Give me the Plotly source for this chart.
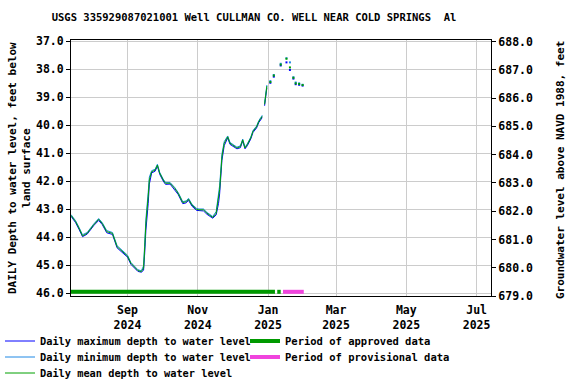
import plotly.graph_objects as go

# ---- data ----
main_dates = ["2024-07-14", "2024-07-18", "2024-07-21", "2024-07-24", "2024-07-28", "2024-07-31",
              "2024-08-03", "2024-08-07", "2024-08-10", "2024-08-14", "2024-08-19", "2024-08-23",
              "2024-08-28", "2024-09-01", "2024-09-04", "2024-09-07", "2024-09-10", "2024-09-13",
              "2024-09-15", "2024-09-16", "2024-09-17", "2024-09-19", "2024-09-20", "2024-09-22",
              "2024-09-25", "2024-09-27", "2024-09-29", "2024-10-02", "2024-10-04", "2024-10-08",
              "2024-10-12", "2024-10-15", "2024-10-19", "2024-10-22", "2024-10-24", "2024-10-27",
              "2024-10-31", "2024-11-02", "2024-11-06", "2024-11-09", "2024-11-14", "2024-11-17",
              "2024-11-19", "2024-11-20", "2024-11-21", "2024-11-22", "2024-11-24", "2024-11-27",
              "2024-11-29", "2024-12-02", "2024-12-05", "2024-12-08", "2024-12-10", "2024-12-12",
              "2024-12-14", "2024-12-17", "2024-12-19", "2024-12-22", "2024-12-24", "2024-12-27",
              "2024-12-28", "2024-12-29", "2024-12-30", "2024-12-31"]
mean_main = [43.22, 43.44, 43.68, 43.95, 43.86, 43.68, 43.54, 43.36, 43.50, 43.80, 43.86, 44.34,
             44.51, 44.67, 44.93, 45.07, 45.19, 45.23, 45.10, 44.34, 43.50, 42.55, 41.95, 41.66,
             41.60, 41.42, 41.71, 41.95, 42.07, 42.07, 42.25, 42.43, 42.76, 42.73, 42.64, 42.85,
             43.00, 43.02, 43.02, 43.14, 43.29, 43.14, 42.67, 42.30, 41.71, 41.12, 40.64, 40.41,
             40.64, 40.73, 40.81, 40.76, 40.52, 40.81, 40.69, 40.45, 40.21, 40.06, 39.86, 39.68,
             None, 39.25, 38.90, 38.60]
max_main = [43.25, 43.48, 43.72, 43.98, 43.89, 43.72, 43.57, 43.40, 43.54, 43.84, 43.90, 44.38,
            44.55, 44.71, 44.97, 45.11, 45.22, 45.25, 45.18, 44.55, 43.75, 42.80, 42.10, 41.70,
            41.64, 41.46, 41.75, 41.99, 42.11, 42.10, 42.29, 42.47, 42.80, 42.77, 42.68, 42.89,
            43.04, 43.05, 43.06, 43.18, 43.32, 43.20, 42.80, 42.45, 41.85, 41.25, 40.72, 40.45,
            40.68, 40.77, 40.84, 40.80, 40.56, 40.84, 40.73, 40.49, 40.25, 40.10, 39.90, 39.72,
            None, 39.30, 39.00, 38.66]
min_main = [43.19, 43.41, 43.65, 43.91, 43.83, 43.65, 43.51, 43.33, 43.47, 43.76, 43.83, 44.30,
            44.48, 44.64, 44.90, 45.04, 45.16, 45.20, 45.02, 44.20, 43.35, 42.40, 41.85, 41.62,
            41.57, 41.39, 41.68, 41.92, 42.04, 42.04, 42.22, 42.40, 42.73, 42.70, 42.61, 42.82,
            42.97, 42.99, 42.99, 43.11, 43.26, 43.08, 42.55, 42.15, 41.60, 41.02, 40.58, 40.38,
            40.61, 40.70, 40.78, 40.73, 40.49, 40.78, 40.66, 40.42, 40.18, 40.03, 39.83, 39.64,
            None, 39.20, 38.80, 38.56]

sparse_dates = ["2025-01-03", "2025-01-06", "2025-01-12", "2025-01-17", "2025-01-20",
                "2025-01-23", "2025-01-25", "2025-01-28", "2025-01-31"]
mean_sparse = [38.45, 38.22, 37.83, 37.62, 37.93, 38.30, 38.50, 38.52, 38.56]
max_sparse = [38.48, 38.26, 37.86, 37.75, 38.02, 38.33, 38.53, 38.55, 38.58]
min_sparse = [38.42, 38.20, 37.80, 37.60, 37.75, 38.28, 38.47, 38.50, 38.55]

approved_dates = ["2024-07-14", "2025-01-07", None, "2025-01-09", "2025-01-12"]
approved_level = [45.95, 45.95, None, 45.95, 45.95]
provisional_dates = ["2025-01-14", "2025-02-01"]
provisional_level = [45.95, 45.95]

tick_vals = ["2024-09-01", "2024-11-01", "2025-01-01", "2025-03-01", "2025-05-01", "2025-07-01"]
tick_text = ["Sep<br>2024", "Nov<br>2024", "Jan<br>2025", "Mar<br>2025", "May<br>2025", "Jul<br>2025"]
left_ticks = [37.0, 38.0, 39.0, 40.0, 41.0, 42.0, 43.0, 44.0, 45.0, 46.0]
right_ticks = [679.0, 680.0, 681.0, 682.0, 683.0, 684.0, 685.0, 686.0, 687.0, 688.0]

FONT = "DejaVu Sans Mono"
C_MAX = "#0000ff"
C_MIN = "#1e88e5"
C_MEAN = "#00a000"
C_APPR = "#009900"
C_PROV = "#f044dd"

fig = go.Figure()
fig.add_trace(go.Scatter(x=main_dates, y=max_main, mode="lines", line=dict(color=C_MAX, width=1),
                         name="Daily maximum depth to water level", legend="legend"))
fig.add_trace(go.Scatter(x=main_dates, y=min_main, mode="lines", line=dict(color=C_MIN, width=1),
                         name="Daily minimum depth to water level", legend="legend3"))
fig.add_trace(go.Scatter(x=main_dates, y=mean_main, mode="lines", line=dict(color=C_MEAN, width=1),
                         name="Daily mean depth to water level", legend="legend5"))
for ys, c in [(max_sparse, C_MAX), (min_sparse, C_MIN), (mean_sparse, C_MEAN)]:
    fig.add_trace(go.Scatter(x=sparse_dates, y=ys, mode="markers",
                             marker=dict(color=c, size=2, symbol="square", line=dict(width=0)),
                             showlegend=False, hoverinfo="skip"))
fig.add_trace(go.Scatter(x=approved_dates, y=approved_level, mode="lines", connectgaps=False,
                         line=dict(color=C_APPR, width=4),
                         name="Period of approved data", legend="legend2"))
fig.add_trace(go.Scatter(x=provisional_dates, y=provisional_level, mode="lines",
                         line=dict(color=C_PROV, width=4),
                         name="Period of provisional data", legend="legend4"))
# transparent trace that activates the right-hand elevation axis
fig.add_trace(go.Scatter(x=[main_dates[0]], y=[683.0], yaxis="y2", mode="markers",
                         marker=dict(opacity=0), showlegend=False, hoverinfo="skip"))

axfont = dict(family=FONT, size=11.5, color="black", weight="bold")


def leg(xpx, ypx, size):
    return dict(x=xpx / 576, xref="container", y=1 - ypx / 384, yref="container",
                xanchor="left", yanchor="middle", orientation="v",
                font=dict(family=FONT, size=size, color="black", weight="bold"),
                bgcolor="rgba(0,0,0,0)", borderwidth=0)


fig.update_layout(
    width=576, height=384,
    margin=dict(l=71, r=85, t=40, b=88, autoexpand=False),
    paper_bgcolor="white", plot_bgcolor="white",
    font=dict(family=FONT, color="black", weight="bold"),
    title=dict(text="USGS 335929087021001 Well CULLMAN CO. WELL NEAR COLD SPRINGS  Al",
               x=254 / 576, xanchor="center", xref="container",
               y=1 - 17 / 384, yanchor="middle", yref="container",
               font=dict(family=FONT, size=10.5, color="black", weight="bold")),
    xaxis=dict(type="date", range=["2024-07-14", "2025-07-13 12:00"],
               tickvals=tick_vals, ticktext=tick_text, tickfont=axfont,
               ticklabelstandoff=3,
               showgrid=True, gridcolor="#cccccc", gridwidth=1,
               showline=True, linecolor="black", linewidth=1, mirror=True,
               ticks="", zeroline=False),
    yaxis=dict(range=[46.1, 36.95], tickvals=left_ticks,
               ticktext=[f"{v:.1f}" for v in left_ticks], tickfont=axfont,
               showgrid=True, gridcolor="#cccccc", gridwidth=1,
               showline=True, linecolor="black", linewidth=1, mirror=True,
               ticks="outside", ticklen=4, tickcolor="black", zeroline=False),
    yaxis2=dict(range=[679.0, 688.06], overlaying="y", side="right", tickvals=right_ticks,
                ticktext=[f"{v:.1f}" for v in right_ticks], tickfont=axfont,
                showgrid=False, showline=True, linecolor="black", linewidth=1,
                ticks="outside", ticklen=4, tickcolor="black", zeroline=False),
    legend=leg(0, 341, 10.3),
    legend3=leg(0, 357, 10.3),
    legend5=leg(0, 373, 10.3),
    legend2=leg(245, 341, 10.5),
    legend4=leg(245, 357, 10.5),
    showlegend=True,
)

fig.add_annotation(text="DAILY Depth to water level, feet below<br>land surface",
                   textangle=-90, xref="paper", yref="paper",
                   x=(19 - 71) / 420, y=0.5, xanchor="center", yanchor="middle",
                   showarrow=False,
                   font=dict(family=FONT, size=11, color="black", weight="bold"))
fig.add_annotation(text="Groundwater level above NAVD 1988, feet",
                   textangle=-90, xref="paper", yref="paper",
                   x=(560 - 71) / 420, y=(296 - 170) / 256, xanchor="center", yanchor="middle",
                   showarrow=False,
                   font=dict(family=FONT, size=11, color="black", weight="bold"))

fig.write_html("out.html", config={"displayModeBar": False},
               post_script="document.body.style.margin='0';document.body.style.overflow='hidden';")
